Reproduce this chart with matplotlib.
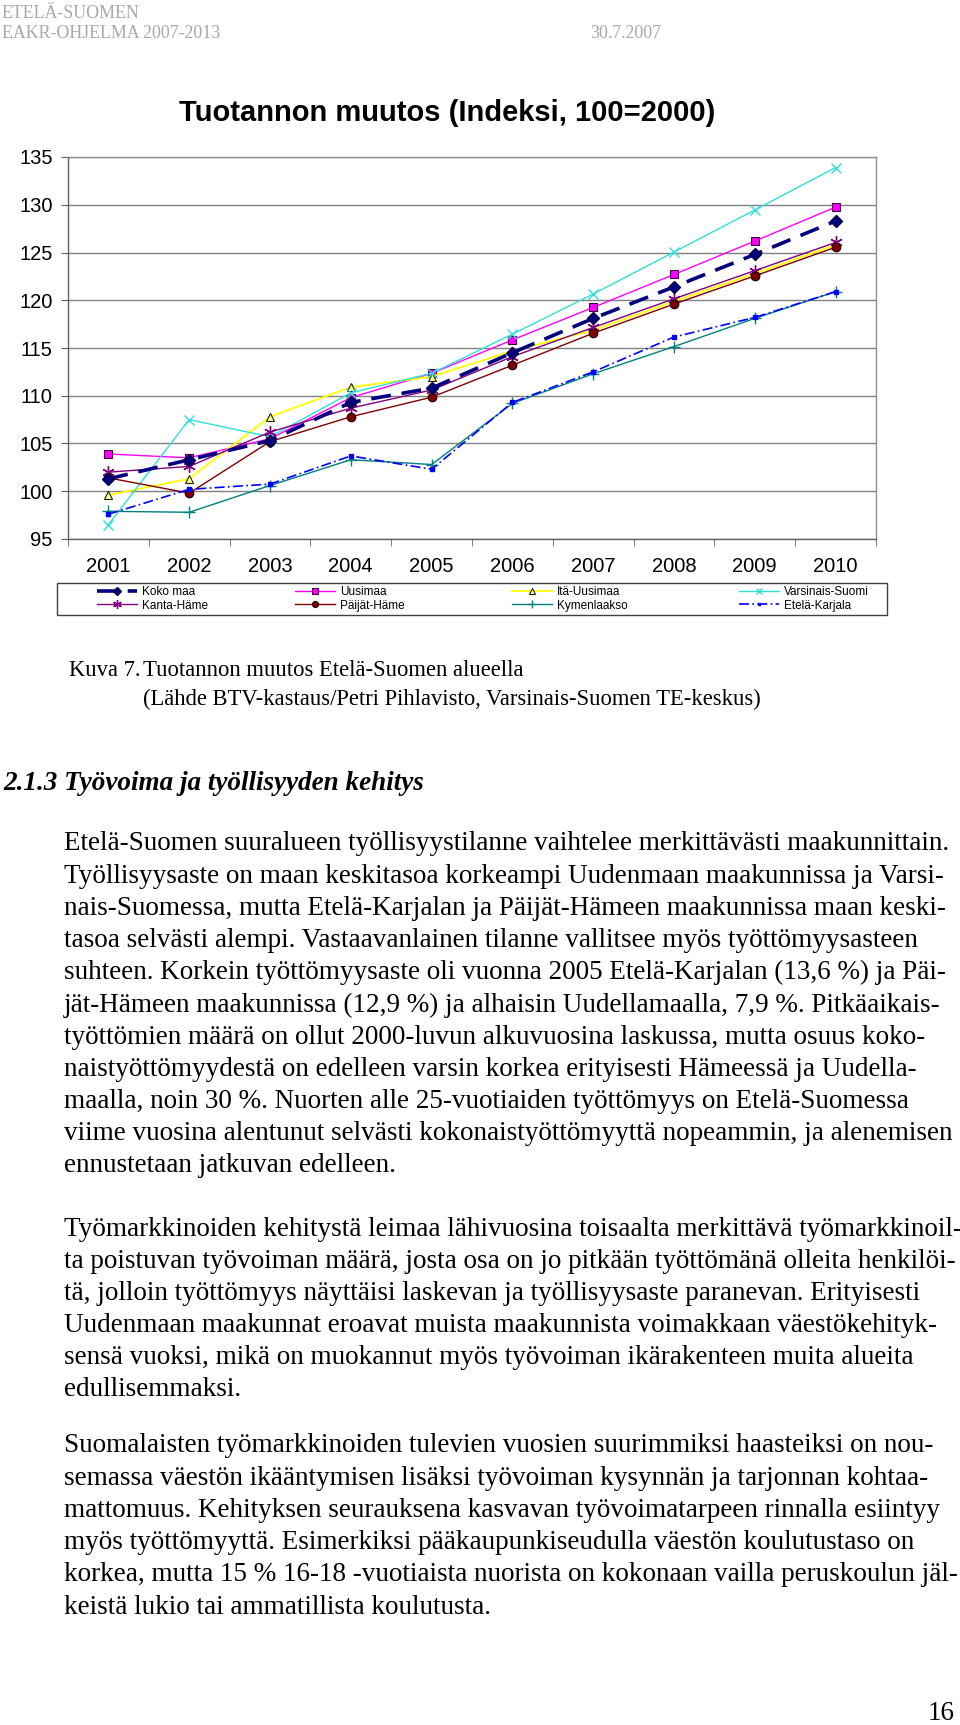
import matplotlib
matplotlib.use("Agg")
import matplotlib.pyplot as plt
from matplotlib import font_manager
from matplotlib.patches import Rectangle
import numpy as np

# chart data (index, 100 = 2000)
years = ['2001', '2002', '2003', '2004', '2005', '2006', '2007', '2008', '2009', '2010']
koko_maa = [101.3, 103.3, 105.3, 109.3, 110.8, 114.5, 118.1, 121.4, 124.8, 128.3]
uusimaa = [103.9, 103.5, 105.5, 109.8, 112.35, 115.85, 119.25, 122.7, 126.2, 129.75]
ita_uusimaa = [99.6, 101.3, 107.8, 110.9, 112.0, 114.7, 116.85, 119.9, 122.8, 125.8]
varsinais_suomi = [96.5, 107.5, 105.7, 110.3, 112.35, 116.45, 120.65, 125.05, 129.45, 133.9]
kanta_hame = [102.0, 102.6, 106.2, 108.7, 110.6, 114.1, 117.15, 120.15, 123.1, 126.05]
paijat_hame = [101.4, 99.8, 105.2, 107.8, 109.85, 113.2, 116.55, 119.6, 122.55, 125.55]
kymenlaakso = [97.9, 97.8, 100.6, 103.3, 102.8, 109.2, 112.3, 115.15, 118.1, 120.9]
etela_karjala = [97.6, 100.2, 100.75, 103.7, 102.3, 109.3, 112.5, 116.15, 118.2, 120.9]

W, H = 960, 1725
SERIF = 'Liberation Serif'
SANS = 'Liberation Sans'

# legend in the original uses a narrow sans; use one if it is there
installed = {f.name for f in font_manager.fontManager.ttflist}
if 'Liberation Sans Narrow' in installed:
    LEG_FONT, LEG_SIZE = 'Liberation Sans Narrow', 9.5
else:
    LEG_FONT, LEG_SIZE = SANS, 8.5

fig = plt.figure(figsize=(W / 100, H / 100), dpi=100)
fig.patch.set_facecolor('white')


def fx(px):
    return px / W


def fy(py):
    return 1 - py / H


# ---- chart ----
ax = fig.add_axes([fx(68), fy(539), fx(876 - 68), (539 - 157) / H])
x = np.arange(len(years))

series = [
    ('Koko maa', koko_maa, dict(color='#000080', lw=2.6, ls=(0, (5.5, 3)), marker='D', ms=6,
                                mfc='#000080', mec='#000040', zorder=6)),
    ('Uusimaa', uusimaa, dict(color='#FF00FF', lw=1.0, marker='s', ms=6,
                              mfc='#FF00FF', mec='#400040', mew=0.8)),
    ('Itä-Uusimaa', ita_uusimaa, dict(color='#FFFF00', lw=1.3, marker='^', ms=6,
                                      mfc='#FFFFA0', mec='#202000', mew=0.8)),
    ('Varsinais-Suomi', varsinais_suomi, dict(color='#33DDDD', lw=1.0, marker='x', ms=7,
                                              mec='#33DDDD', mew=1.0)),
    ('Kanta-Häme', kanta_hame, dict(color='#800080', lw=1.0, marker=(6, 2, 0), ms=9,
                                    mec='#800080', mew=1.0)),
    ('Päijät-Häme', paijat_hame, dict(color='#800000', lw=1.0, marker='o', ms=6,
                                      mfc='#800000', mec='#300000')),
    ('Kymenlaakso', kymenlaakso, dict(color='#008080', lw=1.0, marker='+', ms=8,
                                      mec='#008080', mew=1.0)),
    ('Etelä-Karjala', etela_karjala, dict(color='#0000FF', lw=1.2, ls=(0, (6, 2, 1, 2)),
                                          marker='s', ms=3, mfc='#0000FF', mec='#0000FF')),
]

handles = {}
for name, vals, style in series:
    line, = ax.plot(x, vals, label=name, **style)
    handles[name] = line

ax.set_xlim(-0.5, len(years) - 0.5)
ax.set_ylim(95, 135)
ax.set_yticks(np.arange(95, 136, 5))
ax.yaxis.grid(True, color='#808080', lw=1.0)
ax.set_axisbelow(True)
ax.set_xticks(x)
ax.set_xticklabels(years, fontfamily=SANS, fontsize=14.5)
ax.set_xticks(np.arange(-0.5, len(years)), minor=True)
ax.tick_params(axis='x', which='major', length=0, pad=13)
ax.tick_params(axis='x', which='minor', length=5, color='#606060', direction='out')
ax.tick_params(axis='y', length=5, color='#606060', direction='out', pad=6,
               labelsize=14.5)
for lab in ax.get_yticklabels():
    lab.set_fontfamily(SANS)
for side in ['left', 'bottom']:
    ax.spines[side].set_color('#606060')
    ax.spines[side].set_linewidth(1.0)
for side in ['top', 'right']:
    ax.spines[side].set_color('#909090')
    ax.spines[side].set_linewidth(1.0)

fig.text(fx(447), fy(113), 'Tuotannon muutos (Indeksi, 100=2000)', fontfamily=SANS,
         fontsize=21, fontweight='bold', ha='center', va='center')

# legend: framed box with four columns, two entries each (row-wise reading)
fig.patches.append(Rectangle((fx(57), fy(615)), fx(887 - 57), 32 / H,
                             transform=fig.transFigure, fill=False,
                             edgecolor='#404040', lw=1.0))
legend_cols = [['Koko maa', 'Kanta-Häme'], ['Uusimaa', 'Päijät-Häme'],
               ['Itä-Uusimaa', 'Kymenlaakso'], ['Varsinais-Suomi', 'Etelä-Karjala']]
col_x = [97, 295, 512, 739]
for names, cx in zip(legend_cols, col_x):
    leg = fig.legend([handles[n] for n in names], names, loc='center left',
                     bbox_to_anchor=(fx(cx), fy(599)), frameon=False,
                     borderaxespad=0, borderpad=0, handlelength=3.4,
                     handletextpad=0.4, labelspacing=0.1,
                     prop={'family': LEG_FONT, 'size': LEG_SIZE}, markerscale=0.7)

# ---- page text ----
gray = '#A8A8A8'
fig.text(fx(2), fy(13), 'ETELÄ-SUOMEN', fontfamily=SERIF, fontsize=12.9, color=gray,
         va='center')
fig.text(fx(2), fy(33), 'EAKR-OHJELMA 2007-2013', fontfamily=SERIF, fontsize=12.9,
         color=gray, va='center')
fig.text(fx(590), fy(33), '30.7.2007', fontfamily=SERIF, fontsize=12.9, color=gray,
         va='center')

CAP = 16.3
fig.text(fx(69), fy(670), 'Kuva 7.', fontfamily=SERIF, fontsize=CAP, va='center')
fig.text(fx(143), fy(670), 'Tuotannon muutos Etelä-Suomen alueella', fontfamily=SERIF,
         fontsize=CAP, va='center')
fig.text(fx(143), fy(699), '(Lähde BTV-kastaus/Petri Pihlavisto, Varsinais-Suomen TE-keskus)',
         fontfamily=SERIF, fontsize=CAP, va='center')

fig.text(fx(3), fy(784), '2.1.3 Työvoima ja työllisyyden kehitys', fontfamily=SERIF,
         fontsize=19.5, fontweight='bold', fontstyle='italic', va='center')

para1 = [
    'Etelä-Suomen suuralueen työllisyystilanne vaihtelee merkittävästi maakunnittain.',
    'Työllisyysaste on maan keskitasoa korkeampi Uudenmaan maakunnissa ja Varsi-',
    'nais-Suomessa, mutta Etelä-Karjalan ja Päijät-Hämeen maakunnissa maan keski-',
    'tasoa selvästi alempi. Vastaavanlainen tilanne vallitsee myös työttömyysasteen',
    'suhteen. Korkein työttömyysaste oli vuonna 2005 Etelä-Karjalan (13,6 %) ja Päi-',
    'jät-Hämeen maakunnissa (12,9 %) ja alhaisin Uudellamaalla, 7,9 %. Pitkäaikais-',
    'työttömien määrä on ollut 2000-luvun alkuvuosina laskussa, mutta osuus koko-',
    'naistyöttömyydestä on edelleen varsin korkea erityisesti Hämeessä ja Uudella-',
    'maalla, noin 30 %. Nuorten alle 25-vuotiaiden työttömyys on Etelä-Suomessa',
    'viime vuosina alentunut selvästi kokonaistyöttömyyttä nopeammin, ja alenemisen',
    'ennustetaan jatkuvan edelleen.',
]
para2 = [
    'Työmarkkinoiden kehitystä leimaa lähivuosina toisaalta merkittävä työmarkkinoil-',
    'ta poistuvan työvoiman määrä, josta osa on jo pitkään työttömänä olleita henkilöi-',
    'tä, jolloin työttömyys näyttäisi laskevan ja työllisyysaste paranevan. Erityisesti',
    'Uudenmaan maakunnat eroavat muista maakunnista voimakkaan väestökehityk-',
    'sensä vuoksi, mikä on muokannut myös työvoiman ikärakenteen muita alueita',
    'edullisemmaksi.',
]
para3 = [
    'Suomalaisten työmarkkinoiden tulevien vuosien suurimmiksi haasteiksi on nou-',
    'semassa väestön ikääntymisen lisäksi työvoiman kysynnän ja tarjonnan kohtaa-',
    'mattomuus. Kehityksen seurauksena kasvavan työvoimatarpeen rinnalla esiintyy',
    'myös työttömyyttä. Esimerkiksi pääkaupunkiseudulla väestön koulutustaso on',
    'korkea, mutta 15 % 16-18 -vuotiaista nuorista on kokonaan vailla peruskoulun jäl-',
    'keistä lukio tai ammatillista koulutusta.',
]

BODY = 19.5


def draw_paragraph(lines, y_first, step=32.2, left=64):
    for i, line in enumerate(lines):
        fig.text(fx(left), fy(y_first + i * step), line, fontfamily=SERIF,
                 fontsize=BODY, va='center')


draw_paragraph(para1, 844)
draw_paragraph(para2, 1229)
draw_paragraph(para3, 1446)

fig.text(fx(955), fy(1714), '16', fontfamily=SERIF, fontsize=BODY, ha='right', va='center')

fig.savefig('out.png', dpi=100, facecolor='white')
